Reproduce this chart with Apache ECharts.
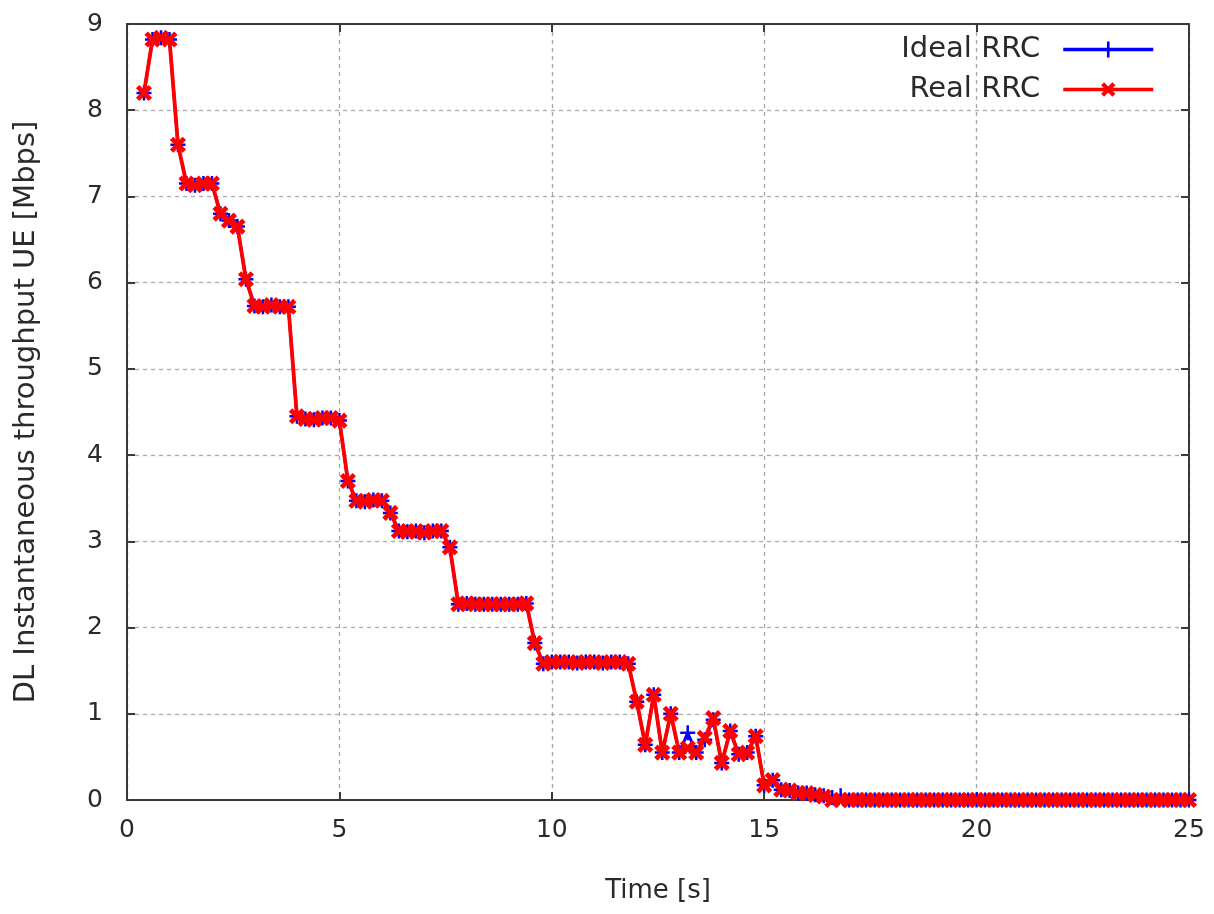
<!DOCTYPE html>
<html>
<head>
<meta charset="utf-8">
<script src="https://cdn.jsdelivr.net/npm/echarts@6/dist/echarts.min.js"></script>
<style>
html,body{margin:0;padding:0;background:#fff;}
#chart{width:1214px;height:914px;}
</style>
</head>
<body>
<div id="chart"></div>
<script>
// Time samples [s]
var times = [0.4,0.6,0.8,1.0,1.2,1.4,1.6,1.8,2.0,2.2,2.4,2.6,2.8,3.0,3.2,3.4,3.6,3.8,4.0,4.2,4.4,4.6,4.8,5.0,
  5.2,5.4,5.6,5.8,6.0,6.2,6.4,6.6,6.8,7.0,7.2,7.4,7.6,7.8,8.0,8.2,8.4,8.6,8.8,9.0,9.2,9.4,9.6,9.8,
  10.0,10.2,10.4,10.6,10.8,11.0,11.2,11.4,11.6,11.8,12.0,12.2,12.4,12.6,12.8,13.0,13.2,13.4,13.6,13.8,
  14.0,14.2,14.4,14.6,14.8,15.0,15.2,15.4,15.6,15.8,16.0,16.2,16.4,16.6,16.8,17.0,17.2,17.4,17.6,17.8,
  18.0,18.2,18.4,18.6,18.8,19.0,19.2,19.4,19.6,19.8,20.0,20.2,20.4,20.6,20.8,21.0,21.2,21.4,21.6,21.8,
  22.0,22.2,22.4,22.6,22.8,23.0,23.2,23.4,23.6,23.8,24.0,24.2,24.4,24.6,24.8,25.0];

// DL instantaneous throughput [Mbps], Ideal RRC
var idealRRC = [8.2,8.82,8.84,8.82,7.6,7.15,7.13,7.15,7.15,6.8,6.72,6.65,6.04,5.73,5.72,5.74,5.72,5.72,4.45,4.42,4.41,4.43,4.43,4.4,
  3.7,3.47,3.46,3.48,3.47,3.33,3.12,3.11,3.12,3.1,3.12,3.12,2.93,2.27,2.28,2.27,2.27,2.27,2.27,2.27,2.27,2.28,1.82,1.58,
  1.6,1.6,1.6,1.59,1.6,1.6,1.59,1.6,1.6,1.58,1.14,0.64,1.22,0.55,1.0,0.55,0.78,0.55,0.7,0.93,
  0.43,0.8,0.53,0.55,0.74,0.17,0.23,0.12,0.11,0.08,0.08,0.06,0.05,0.03,0.05,0,0,0,0,0,
  0,0,0,0,0,0,0,0,0,0,0,0,0,0,0,0,0,0,0,0,
  0,0,0,0,0,0,0,0,0,0,0,0,0,0,0,0];

// DL instantaneous throughput [Mbps], Real RRC
var realRRC = [8.2,8.82,8.84,8.82,7.6,7.15,7.13,7.15,7.15,6.8,6.72,6.65,6.04,5.73,5.72,5.74,5.72,5.72,4.45,4.42,4.41,4.43,4.43,4.4,
  3.7,3.47,3.46,3.48,3.47,3.33,3.12,3.11,3.12,3.1,3.12,3.12,2.93,2.27,2.28,2.27,2.27,2.27,2.27,2.27,2.27,2.28,1.82,1.58,
  1.6,1.6,1.6,1.59,1.6,1.6,1.59,1.6,1.6,1.58,1.14,0.64,1.22,0.55,1.0,0.55,0.6,0.55,0.72,0.95,
  0.43,0.8,0.53,0.55,0.74,0.17,0.23,0.12,0.11,0.08,0.08,0.06,0.04,0,0,0,0,0,0,0,
  0,0,0,0,0,0,0,0,0,0,0,0,0,0,0,0,0,0,0,0,
  0,0,0,0,0,0,0,0,0,0,0,0,0,0,0,0];

var xTicks = [0,5,10,15,20,25];
var yTicks = [0,1,2,3,4,5,6,7,8,9];

function pairs(xs, ys){ return xs.map(function(x,i){ return [x, ys[i]]; }); }

var FONT = 'DejaVu Sans';
var TXT = '#2a2a2a';
var BORDER = '#3a3a3a';
var plusPath = 'path://M0,5H12V7H0Z M5,0H7V12H5Z';
var crossPath = 'path://M0,4.4H12V7.6H0Z M4.4,0H7.6V12H4.4Z';

var chart = echarts.init(document.getElementById('chart'), null, {renderer:'canvas'});
var gridLine = {show:true, lineStyle:{color:'#a8a8a8', type:[4,4], width:1.3}};
chart.setOption({
  animation:false,
  backgroundColor:'#ffffff',
  grid:{left:127, right:25, top:24, bottom:114},
  legend:{
    orient:'vertical', right:54, top:30, align:'right',
    itemWidth:90, itemHeight:20, itemGap:11,
    lineStyle:{width:3.5},
    textStyle:{fontFamily:FONT, fontSize:29, color:TXT, padding:[0,18,0,0]},
    data:['Ideal RRC','Real RRC']
  },
  xAxis:[{
    type:'value', min:xTicks[0], max:xTicks[xTicks.length-1], interval:5,
    name:'Time [s]', nameLocation:'middle', nameGap:78,
    nameTextStyle:{fontFamily:FONT, fontSize:26, color:TXT},
    axisLine:{show:true, onZero:false, lineStyle:{color:BORDER, width:2}},
    axisTick:{show:true, inside:true, length:8, lineStyle:{color:BORDER, width:2}},
    axisLabel:{fontFamily:FONT, fontSize:25, color:TXT, margin:18},
    splitLine:gridLine
  },{
    type:'value', position:'top', min:xTicks[0], max:xTicks[xTicks.length-1], interval:5,
    axisLine:{show:true, onZero:false, lineStyle:{color:BORDER, width:2}},
    axisTick:{show:true, inside:true, length:8, lineStyle:{color:BORDER, width:2}},
    axisLabel:{show:false}, splitLine:{show:false}
  }],
  yAxis:[{
    type:'value', min:yTicks[0], max:yTicks[yTicks.length-1], interval:1,
    name:'DL Instantaneous throughput UE [Mbps]', nameLocation:'middle', nameGap:86,
    nameTextStyle:{fontFamily:FONT, fontSize:29, color:TXT},
    axisLine:{show:true, onZero:false, lineStyle:{color:BORDER, width:2}},
    axisTick:{show:true, inside:true, length:8, lineStyle:{color:BORDER, width:2}},
    axisLabel:{fontFamily:FONT, fontSize:25, color:TXT, margin:24},
    splitLine:gridLine
  },{
    type:'value', position:'right', min:yTicks[0], max:yTicks[yTicks.length-1], interval:1,
    axisLine:{show:true, onZero:false, lineStyle:{color:BORDER, width:2}},
    axisTick:{show:true, inside:true, length:8, lineStyle:{color:BORDER, width:2}},
    axisLabel:{show:false}, splitLine:{show:false}
  }],
  series:[{
    name:'Ideal RRC', type:'line', data:pairs(times, idealRRC),
    symbol:plusPath, symbolSize:15, showAllSymbol:true,
    lineStyle:{color:'#0000ff', width:3},
    itemStyle:{color:'#0000ff'},
    z:2
  },{
    name:'Real RRC', type:'line', data:pairs(times, realRRC),
    symbol:crossPath, symbolSize:18, symbolRotate:45, showAllSymbol:true,
    lineStyle:{color:'#ff0000', width:3.8},
    itemStyle:{color:'#ff0000'},
    z:3
  }]
});
</script>
</body>
</html>
